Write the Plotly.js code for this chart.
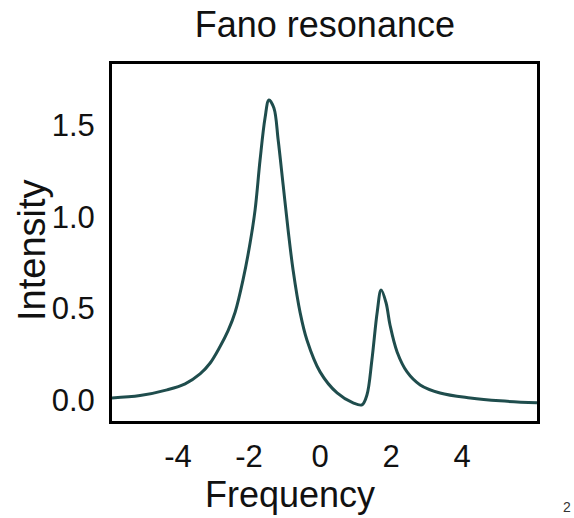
<!DOCTYPE html>
<html>
<head>
<meta charset="utf-8">
<script src="https://cdn.plot.ly/plotly-3.0.1.min.js"></script>
<style>html,body{margin:0;padding:0;background:#fff;}#chart{width:574px;height:518px;}</style>
</head>
<body>
<div id="chart"></div>
<script>
const frequency = [-5.86, -5.07, -4.31, -3.80, -3.38, -3.10, -2.82, -2.59, -2.39, -2.17, -1.97, -1.83, -1.69, -1.55, -1.44, -1.30, -1.18, -1.04, -0.90, -0.76, -0.56, -0.37, 0.00, 0.48, 0.93, 1.18, 1.32, 1.46, 1.61, 1.72, 1.86, 1.97, 2.17, 2.45, 2.82, 3.38, 4.23, 5.07, 6.11];
const intensity = [0.011, 0.024, 0.055, 0.088, 0.142, 0.200, 0.290, 0.378, 0.480, 0.655, 0.857, 1.037, 1.309, 1.538, 1.637, 1.593, 1.418, 1.173, 0.927, 0.709, 0.475, 0.327, 0.153, 0.038, -0.016, -0.027, 0.027, 0.218, 0.480, 0.600, 0.529, 0.409, 0.262, 0.153, 0.082, 0.038, 0.011, -0.005, -0.016];
const xTicks = [-4, -2, 0, 2, 4];
const xTickLabels = ['-4', '-2', '0', '2', '4'];
const yTicks = [0, 0.5, 1.0, 1.5];
const yTickLabels = ['0.0', '0.5', '1.0', '1.5'];

const font = 'Liberation Sans, Arial, sans-serif';
const trace = {
  x: frequency, y: intensity, type: 'scatter', mode: 'lines',
  line: {color: '#1f4d4d', width: 3, shape: 'spline', smoothing: 1},
  hoverinfo: 'skip'
};
const layout = {
  width: 574, height: 518,
  margin: {l: 112, r: 37, t: 64, b: 97},
  paper_bgcolor: '#ffffff', plot_bgcolor: '#ffffff',
  showlegend: false,
  title: {text: 'Fano resonance', font: {family: font, size: 36, color: '#111'}, x: 0.566, xanchor: 'center', y: 0.952, yanchor: 'middle'},
  xaxis: {
    range: [-5.86, 6.11], tickvals: xTicks, ticktext: xTickLabels,
    showgrid: false, zeroline: false, showline: true, mirror: true,
    linecolor: '#000', linewidth: 3, ticks: '', ticklabelstandoff: 6,
    tickfont: {family: font, size: 31, color: '#111'}
  },
  yaxis: {
    range: [-0.115, 1.833], tickvals: yTicks, ticktext: yTickLabels,
    showgrid: false, zeroline: false, showline: true, mirror: true,
    linecolor: '#000', linewidth: 3, ticks: '', ticklabelstandoff: 8,
    tickfont: {family: font, size: 31, color: '#111'}
  },
  annotations: [
    {text: 'Frequency', xref: 'paper', yref: 'paper', x: (290 - 112) / 425, y: (518 - 494 - 97) / 357, xanchor: 'center', yanchor: 'middle', showarrow: false, font: {family: font, size: 36, color: '#111'}},
    {text: 'Intensity', xref: 'paper', yref: 'paper', x: (32 - 112) / 425, y: (518 - 250 - 97) / 357, xanchor: 'center', yanchor: 'middle', textangle: -90, showarrow: false, font: {family: font, size: 38, color: '#111'}},
    {text: '2', xref: 'paper', yref: 'paper', x: (573 - 112) / 425, y: (518 - 507 - 97) / 357, xanchor: 'right', yanchor: 'middle', showarrow: false, font: {family: font, size: 14, color: '#333'}}
  ]
};
Plotly.newPlot('chart', [trace], layout, {staticPlot: true, displayModeBar: false});
</script>
</body>
</html>
